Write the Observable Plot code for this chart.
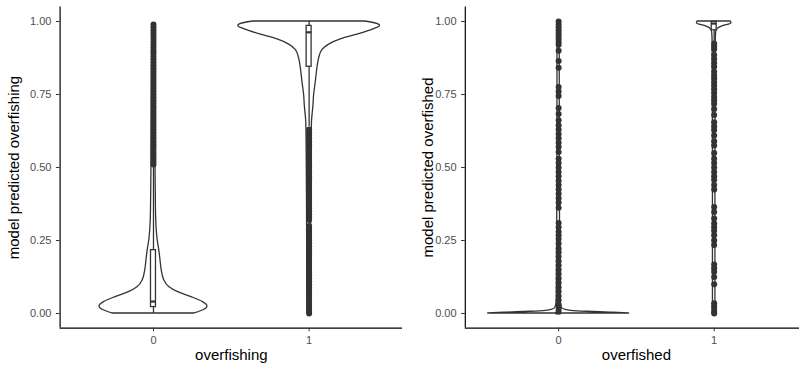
<!DOCTYPE html>
<html><head><meta charset="utf-8">
<script src="https://cdn.jsdelivr.net/npm/d3@7"></script>
<script src="https://cdn.jsdelivr.net/npm/@observablehq/plot@0.6"></script>
<style>
body{margin:0;background:#fff;}
#wrap{position:relative;width:799px;height:367px;overflow:hidden;background:#fff;}
#wrap svg{position:absolute;top:0;background:transparent;}
</style>
</head><body>
<div id="wrap"></div>
<script>
// ---------- data ----------
const categories = [0, 1];
const yTicks = [0, 0.25, 0.5, 0.75, 1];

// Panel A: overfishing — violin profiles (y value, half-width in category units)
const violinA0_y = [0, 0.011, 0.025, 0.040, 0.057, 0.074, 0.091, 0.114, 0.148, 0.183, 0.217, 0.251, 0.285, 0.33, 0.40, 0.50, 0.60, 0.80, 0.99];
const violinA0_w = [0.263, 0.321, 0.347, 0.315, 0.240, 0.155, 0.101, 0.069, 0.053, 0.045, 0.037, 0.027, 0.021, 0.017, 0.015, 0.013, 0.012, 0.010, 0.008];
const violinA1_y = [0, 0.1, 0.3, 0.5, 0.65, 0.713, 0.748, 0.793, 0.839, 0.873, 0.902, 0.921, 0.939, 0.955, 0.974, 0.985, 0.994, 1.0];
const violinA1_w = [0.011, 0.012, 0.013, 0.015, 0.018, 0.028, 0.032, 0.043, 0.053, 0.064, 0.085, 0.128, 0.203, 0.310, 0.417, 0.455, 0.423, 0.359];
// box stats: [lower whisker, q1, median, q3, upper whisker]
const boxA0 = [0, 0.022, 0.041, 0.217, 0.50];
const boxA1 = [0.64, 0.845, 0.963, 0.985, 1.0];
const outA0 = [0.51,0.52,0.53,0.54,0.55,0.56,0.57,0.58,0.59,0.60,0.61,0.62,0.63,0.64,0.65,0.66,0.67,0.68,0.69,0.70,0.71,0.72,0.73,0.74,0.75,0.76,0.77,0.78,0.79,0.80,0.81,0.82,0.83,0.84,0.85,0.86,0.87,0.88,0.89,0.90,0.91,0.92,0.93,0.94,0.95,0.96,0.97,0.98,0.99];
const outA1 = [0.00,0.01,0.02,0.03,0.04,0.05,0.06,0.07,0.08,0.09,0.10,0.11,0.12,0.13,0.14,0.15,0.16,0.17,0.18,0.19,0.20,0.21,0.22,0.23,0.24,0.25,0.26,0.27,0.28,0.29,0.30,0.32,0.33,0.34,0.35,0.36,0.37,0.38,0.39,0.40,0.41,0.42,0.43,0.44,0.45,0.46,0.47,0.48,0.49,0.50,0.51,0.52,0.53,0.54,0.55,0.56,0.57,0.58,0.59,0.60,0.61,0.62,0.63];

// Panel B: overfished
const violinB0_y = [0, 0.001, 0.003, 0.006, 0.009, 0.012, 0.02, 0.05, 0.3, 1.0];
const violinB0_w = [0.453, 0.42, 0.33, 0.18, 0.08, 0.045, 0.02, 0.012, 0.009, 0.007];
const violinB1_y = [0, 0.5, 0.93, 0.964, 0.976, 0.984, 0.993, 1.0];
const violinB1_w = [0.008, 0.008, 0.010, 0.013, 0.026, 0.057, 0.111, 0.107];
const boxB0 = [0, 0, 0, 0.002, 0.005];
const boxB1 = [0.93, 0.970, 0.993, 0.999, 1.0];
const outB0 = [1.0,0.99,0.98,0.97,0.96,0.95,0.94,0.93,0.92,0.90,0.865,0.842,0.776,0.760,0.745,0.704,0.683,0.662,0.645,0.63,0.615,0.60,0.585,0.57,0.553,0.53,0.515,0.50,0.485,0.47,0.455,0.44,0.425,0.41,0.395,0.38,0.362,0.31,0.295,0.28,0.268,0.255,0.24,0.223,0.21,0.195,0.18,0.165,0.15,0.135,0.12,0.105,0.09,0.075,0.06,0.045,0.03,0.02,0.01];
const outB1 = [0.925,0.915,0.905,0.885,0.872,0.858,0.845,0.828,0.815,0.805,0.792,0.78,0.768,0.755,0.742,0.73,0.718,0.70,0.68,0.655,0.64,0.628,0.61,0.59,0.575,0.55,0.53,0.515,0.50,0.485,0.47,0.458,0.44,0.425,0.365,0.348,0.325,0.308,0.295,0.283,0.268,0.25,0.235,0.168,0.155,0.143,0.125,0.10,0.035,0.025,0.015,0.005,0.0];

const titlesX = ["overfishing", "overfished"];
const titlesY = ["model predicted overfishing", "model predicted overfished"];

// ---------- helpers ----------
const xDomain = [-0.6, 1.6];
const yDomain = [-0.05, 1.05];
const INK = "#333333";
const BOXW = 0.016;
const LW = 1.3;

function violinRows(cat, ys, ws) { return ys.map((y, i) => ({cat, y, w: ws[i]})); }
function boxRow(cat, b) { return {cat, lo: b[0], q1: b[1], med: b[2], q3: b[3], hi: b[4]}; }
function outRows(cat, vs) { return vs.map(v => ({cat, v})); }

function panel({width, marginLeft, violins, boxes, outliers, titleX, titleY, yTitleDx}) {
  const marginTop = 6.4, marginBottom = 39.4;
  return Plot.plot({
    width, height: 367, marginLeft, marginRight: 0, marginTop, marginBottom,
    style: {fontFamily: "Liberation Sans, Arial, sans-serif", fontSize: "11px", background: "transparent", overflow: "visible"},
    x: {domain: xDomain, axis: null},
    y: {domain: yDomain, axis: null},
    marks: [
      Plot.areaX(violins, {y: "y", x1: d => d.cat - d.w, x2: d => d.cat + d.w, z: "cat", fill: "white", stroke: INK, strokeWidth: LW, curve: "monotone-y"}),
      Plot.dot(outliers, {x: "cat", y: "v", r: 3, fill: INK, stroke: null}),
      Plot.ruleX(boxes, {x: "cat", y1: "lo", y2: "q1", stroke: INK, strokeWidth: LW}),
      Plot.ruleX(boxes, {x: "cat", y1: "q3", y2: "hi", stroke: INK, strokeWidth: LW}),
      Plot.rect(boxes, {x1: d => d.cat - BOXW, x2: d => d.cat + BOXW, y1: "q1", y2: "q3", fill: "white", stroke: INK, strokeWidth: LW}),
      Plot.ruleY(boxes, {y: "med", x1: d => d.cat - BOXW, x2: d => d.cat + BOXW, stroke: INK, strokeWidth: 2.2}),
      Plot.ruleX([xDomain[0]], {stroke: "black", strokeWidth: 1.2}),
      Plot.ruleY([yDomain[0]], {stroke: "black", strokeWidth: 1.2}),
      Plot.axisY(yTicks, {tickFormat: d3.format(".2f"), tickSize: 3.7, tickPadding: 5, stroke: INK, fill: "#4d4d4d", fontSize: 11, label: null}),
      Plot.axisX(categories, {tickFormat: d => String(d), tickSize: 3.7, tickPadding: 4.7, stroke: INK, fill: "#4d4d4d", fontSize: 11, label: null}),
      Plot.text([titleX], {text: d => d, frameAnchor: "bottom", textAnchor: "middle", dy: 31.4, lineAnchor: "bottom", fontSize: 15, fill: "black"}),
      Plot.text([titleY], {text: d => d, frameAnchor: "left", textAnchor: "middle", rotate: -90, dx: yTitleDx, lineAnchor: "bottom", fontSize: 15, fill: "black"})
    ]
  });
}

const wrap = document.getElementById("wrap");
const A = panel({
  width: 402, marginLeft: 59.6,
  violins: [...violinRows(0, violinA0_y, violinA0_w), ...violinRows(1, violinA1_y, violinA1_w)],
  boxes: [boxRow(0, boxA0), boxRow(1, boxA1)],
  outliers: [...outRows(0, outA0), ...outRows(1, outA1)],
  titleX: titlesX[0], titleY: titlesY[0], yTitleDx: -41.3
});
A.style.left = "0px";
const B = panel({
  width: 407, marginLeft: 64.8,
  violins: [...violinRows(0, violinB0_y, violinB0_w), ...violinRows(1, violinB1_y, violinB1_w)],
  boxes: [boxRow(0, boxB0), boxRow(1, boxB1)],
  outliers: [...outRows(0, outB0), ...outRows(1, outB1)],
  titleX: titlesX[1], titleY: titlesY[1], yTitleDx: -32.8
});
B.style.left = "400px";
wrap.appendChild(A);
wrap.appendChild(B);
</script>
</body></html>
